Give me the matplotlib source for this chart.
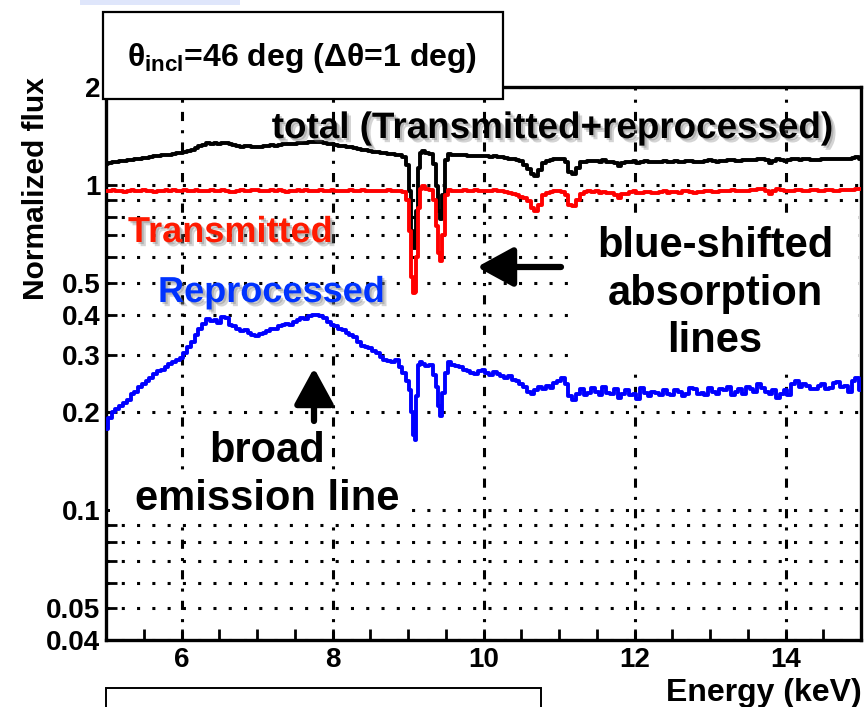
import matplotlib
matplotlib.use("Agg")
import numpy as np
import matplotlib.pyplot as plt
import matplotlib.patheffects as pe
from matplotlib.patches import Rectangle
from matplotlib.ticker import FixedLocator, MultipleLocator, NullFormatter

plt.rcParams['font.family'] = ['Liberation Sans', 'DejaVu Sans']
plt.rcParams['font.weight'] = 'bold'
plt.rcParams['mathtext.fontset'] = 'custom'
plt.rcParams['mathtext.rm'] = 'Liberation Sans:bold'
plt.rcParams['mathtext.it'] = 'Liberation Sans:bold'
plt.rcParams['mathtext.bf'] = 'Liberation Sans:bold'

# ---------------- data ----------------
# bin centres (keV): 0.05 keV bins, finer around the Fe XXV / Fe XXVI lines
energy_low = np.round(np.arange(5.0, 8.901, 0.05), 2)
energy_lines = [8.95, 9.0, 9.03, 9.06, 9.08, 9.10, 9.12, 9.14, 9.17, 9.2,
                9.25, 9.3, 9.35, 9.38, 9.41, 9.44, 9.47, 9.5, 9.55, 9.6]
energy_high = np.round(np.arange(9.65, 15.001, 0.05), 2)
energy_kev = np.concatenate([energy_low, energy_lines, energy_high])

total_flux = [
    # 5.00 - 8.90
    1.16, 1.168, 1.175, 1.178, 1.185, 1.188, 1.19, 1.195, 1.20, 1.205,
    1.21, 1.213, 1.22, 1.226, 1.23, 1.232, 1.238, 1.24, 1.245, 1.25,
    1.255, 1.262, 1.27, 1.285, 1.30, 1.315, 1.33, 1.345, 1.34, 1.345,
    1.335, 1.35, 1.35, 1.335, 1.33, 1.32, 1.31, 1.315, 1.315, 1.31,
    1.31, 1.312, 1.315, 1.32, 1.325, 1.322, 1.33, 1.335, 1.335, 1.332,
    1.34, 1.345, 1.35, 1.348, 1.355, 1.358, 1.36, 1.355, 1.35, 1.34,
    1.335, 1.33, 1.32, 1.318, 1.31, 1.305, 1.295, 1.288, 1.28, 1.278,
    1.27, 1.265, 1.26, 1.252, 1.25, 1.248, 1.245, 1.24, 1.235,
    # 8.95 - 9.60 (absorption lines)
    1.22, 1.15, 0.96, 0.72, 0.64, 0.64, 0.83, 1.13, 1.25, 1.27,
    1.255, 1.245, 1.16, 0.99, 0.83, 0.785, 0.93, 1.19, 1.245, 1.24,
    # 9.65 - 15.00
    1.24, 1.235, 1.24, 1.23, 1.225, 1.225, 1.228,
    1.23, 1.225, 1.22, 1.225, 1.22, 1.215, 1.21, 1.205, 1.20, 1.19,
    1.185, 1.15, 1.12, 1.08, 1.065, 1.11, 1.17, 1.185, 1.19, 1.20,
    1.205, 1.20, 1.175, 1.10, 1.08, 1.13, 1.175, 1.178, 1.185, 1.188,
    1.185, 1.18, 1.19, 1.18, 1.175, 1.165, 1.14, 1.165, 1.175, 1.18,
    1.185, 1.17, 1.18, 1.182, 1.178, 1.175, 1.175, 1.178, 1.185, 1.178,
    1.18, 1.185, 1.178, 1.18, 1.182, 1.185, 1.175, 1.18, 1.18, 1.182,
    1.19, 1.185, 1.18, 1.188, 1.185, 1.19, 1.19, 1.185, 1.182, 1.19,
    1.19, 1.195, 1.195, 1.205, 1.205, 1.19, 1.17, 1.185, 1.20, 1.195,
    1.185, 1.19, 1.20, 1.205, 1.195, 1.20, 1.198, 1.195, 1.19, 1.195,
    1.20, 1.198, 1.20, 1.205, 1.205, 1.20, 1.20, 1.205, 1.21, 1.215,
    1.20,
]

transmitted_flux = [
    # 5.00 - 8.90
    0.955, 0.958, 0.962, 0.957, 0.958, 0.952, 0.96, 0.962, 0.956, 0.96,
    0.962, 0.958, 0.958, 0.953, 0.955, 0.96, 0.962, 0.958, 0.963, 0.957,
    0.957, 0.962, 0.96, 0.955, 0.962, 0.958, 0.955, 0.96, 0.965, 0.958,
    0.958, 0.962, 0.96, 0.952, 0.95, 0.958, 0.962, 0.96, 0.958, 0.965,
    0.965, 0.958, 0.955, 0.96, 0.962, 0.958, 0.962, 0.955, 0.952, 0.958,
    0.96, 0.963, 0.958, 0.962, 0.958, 0.955, 0.96, 0.962, 0.955, 0.96,
    0.962, 0.958, 0.96, 0.955, 0.96, 0.962, 0.955, 0.958, 0.962, 0.956,
    0.958, 0.955, 0.96, 0.955, 0.96, 0.962, 0.957, 0.955, 0.955,
    # 8.95 - 9.60
    0.95, 0.90, 0.72, 0.52, 0.465, 0.47, 0.60, 0.85, 0.97, 0.99,
    0.975, 0.965, 0.90, 0.75, 0.62, 0.585, 0.70, 0.93, 0.965, 0.958,
    # 9.65 - 15.00
    0.96, 0.958, 0.962, 0.958, 0.955, 0.962, 0.958,
    0.955, 0.96, 0.958, 0.962, 0.958, 0.955, 0.95, 0.945, 0.94, 0.93,
    0.92, 0.91, 0.89, 0.85, 0.83, 0.87, 0.93, 0.945, 0.95, 0.955,
    0.955, 0.95, 0.93, 0.87, 0.86, 0.90, 0.94, 0.95, 0.955, 0.95,
    0.955, 0.948, 0.95, 0.945, 0.945, 0.93, 0.91, 0.935, 0.94, 0.95,
    0.955, 0.945, 0.948, 0.952, 0.95, 0.945, 0.945, 0.95, 0.955, 0.948,
    0.95, 0.952, 0.948, 0.955, 0.955, 0.95, 0.945, 0.952, 0.952, 0.955,
    0.958, 0.95, 0.95, 0.955, 0.955, 0.96, 0.962, 0.955, 0.955, 0.96,
    0.958, 0.962, 0.965, 0.97, 0.975, 0.955, 0.94, 0.96, 0.975, 0.965,
    0.96, 0.958, 0.955, 0.962, 0.965, 0.96, 0.958, 0.962, 0.962, 0.958,
    0.955, 0.962, 0.965, 0.96, 0.96, 0.965, 0.962, 0.965, 0.968, 0.97,
    0.975,
]

reprocessed_flux = [
    # 5.00 - 8.90
    0.178, 0.192, 0.20, 0.205, 0.21, 0.214, 0.218, 0.228, 0.232, 0.24,
    0.245, 0.25, 0.255, 0.262, 0.268, 0.27, 0.275, 0.282, 0.285, 0.29,
    0.295, 0.305, 0.318, 0.33, 0.345, 0.36, 0.375, 0.388, 0.382, 0.386,
    0.378, 0.392, 0.39, 0.372, 0.368, 0.362, 0.356, 0.358, 0.35, 0.346,
    0.343, 0.348, 0.352, 0.356, 0.362, 0.36, 0.368, 0.372, 0.375, 0.372,
    0.38, 0.385, 0.39, 0.388, 0.395, 0.398, 0.40, 0.395, 0.39, 0.38,
    0.372, 0.368, 0.362, 0.358, 0.352, 0.345, 0.34, 0.33, 0.32, 0.318,
    0.315, 0.31, 0.305, 0.296, 0.29, 0.288, 0.285, 0.29, 0.275,
    # 8.95 - 9.60
    0.265, 0.25, 0.235, 0.20, 0.17, 0.165, 0.225, 0.28, 0.285, 0.282,
    0.278, 0.28, 0.26, 0.24, 0.21, 0.195, 0.23, 0.265, 0.285, 0.28,
    # 9.65 - 15.00
    0.278, 0.275, 0.27, 0.268, 0.265, 0.262, 0.268,
    0.27, 0.264, 0.26, 0.266, 0.262, 0.258, 0.255, 0.258, 0.252, 0.25,
    0.245, 0.24, 0.232, 0.228, 0.235, 0.24, 0.236, 0.242, 0.238, 0.246,
    0.25, 0.255, 0.245, 0.225, 0.218, 0.228, 0.236, 0.226, 0.23, 0.238,
    0.232, 0.226, 0.24, 0.23, 0.228, 0.236, 0.222, 0.228, 0.235, 0.226,
    0.228, 0.22, 0.238, 0.23, 0.225, 0.232, 0.23, 0.226, 0.235, 0.228,
    0.226, 0.234, 0.232, 0.224, 0.228, 0.238, 0.236, 0.228, 0.23, 0.226,
    0.238, 0.232, 0.228, 0.236, 0.234, 0.24, 0.226, 0.232, 0.236, 0.228,
    0.24, 0.236, 0.232, 0.244, 0.238, 0.232, 0.228, 0.234, 0.222, 0.228,
    0.235, 0.226, 0.245, 0.25, 0.24, 0.244, 0.242, 0.236, 0.236, 0.242,
    0.244, 0.236, 0.238, 0.246, 0.248, 0.24, 0.242, 0.232, 0.25, 0.255,
    0.235,
]

assert len(total_flux) == len(energy_kev), (len(total_flux), len(energy_kev))
assert len(transmitted_flux) == len(energy_kev), (len(transmitted_flux), len(energy_kev))
assert len(reprocessed_flux) == len(energy_kev), (len(reprocessed_flux), len(energy_kev))

y_major_ticks = [0.04, 0.05, 0.1, 0.2, 0.3, 0.4, 0.5, 1, 2]
y_major_labels = ['0.04', '0.05', '0.1', '0.2', '0.3', '0.4', '0.5', '1', '2']
y_minor_ticks = [0.06, 0.07, 0.08, 0.09, 0.6, 0.7, 0.8, 0.9]
x_major_ticks = [6, 8, 10, 12, 14]

# ---------------- figure ----------------
W, H = 868, 707
fig = plt.figure(figsize=(W / 100, H / 100), dpi=100)
fig.patch.set_facecolor('white')


def fx(px):
    return px / W


def fy(py):
    return 1 - py / H


ax = fig.add_axes([fx(106), fy(640), (861 - 106) / W, (640 - 87) / H])
ax.set_yscale('log')
ax.set_xlim(5, 15)
ax.set_ylim(0.04, 2)

ax.plot(energy_kev, total_flux, drawstyle='steps-mid', color='black', lw=2.8, zorder=3)
ax.plot(energy_kev, transmitted_flux, drawstyle='steps-mid', color='#ff0000', lw=2.8, zorder=3)
ax.plot(energy_kev, reprocessed_flux, drawstyle='steps-mid', color='#0000ff', lw=2.8, zorder=3)

ax.yaxis.set_major_locator(FixedLocator(y_major_ticks))
ax.set_yticklabels(y_major_labels)
ax.yaxis.set_minor_locator(FixedLocator(y_minor_ticks))
ax.yaxis.set_minor_formatter(NullFormatter())
ax.xaxis.set_major_locator(FixedLocator(x_major_ticks))
ax.xaxis.set_minor_locator(MultipleLocator(0.5))

ax.tick_params(axis='both', which='both', direction='in', width=2.0, labelsize=20, pad=5)
ax.tick_params(axis='y', which='both', length=8, pad=4)
ax.tick_params(axis='x', which='both', length=8)
for lab in ax.get_xticklabels() + ax.get_yticklabels():
    lab.set_fontweight('bold')

for sp in ax.spines.values():
    sp.set_linewidth(2.4)

ax.set_axisbelow(True)
ax.grid(axis='y', which='both', color='black', lw=2.2, linestyle=(0, (1, 4)), dash_capstyle='butt')
ax.grid(axis='x', which='major', color='black', lw=2.2, linestyle=(0, (3, 3, 1, 3)), dash_capstyle='butt')

# white areas behind the annotation texts (hide grid)
ax.add_patch(Rectangle((fx(575), fy(368)), (858 - 575) / W, (368 - 214) / H,
                       transform=fig.transFigure, facecolor='white', edgecolor='none', zorder=0.8))
ax.add_patch(Rectangle((fx(110), fy(522)), (405 - 110) / W, (522 - 476) / H,
                       transform=fig.transFigure, facecolor='white', edgecolor='none', zorder=0.8))

shadow = [pe.SimplePatchShadow(offset=(1.5, -1.5), shadow_rgbFace=(0.45, 0.45, 0.45), alpha=0.35),
          pe.SimplePatchShadow(offset=(3, -3), shadow_rgbFace=(0.45, 0.45, 0.45), alpha=0.3),
          pe.Normal()]

fig.text(fx(552), fy(138), 'total (Transmitted+reprocessed)', fontsize=26.5, fontweight='bold',
         ha='center', va='baseline', color='black', path_effects=shadow, zorder=6)
fig.text(fx(128), fy(242), 'Transmitted', fontsize=26, fontweight='bold',
         ha='left', va='baseline', color='#ff1a00', path_effects=shadow, zorder=6)
fig.text(fx(158), fy(302), 'Reprocessed', fontsize=26, fontweight='bold',
         ha='left', va='baseline', color='#0033ff', path_effects=shadow, zorder=6)

for txt, base in [('blue-shifted', 257), ('absorption', 305), ('lines', 352)]:
    fig.text(fx(715), fy(base), txt, fontsize=30, fontweight='bold', ha='center',
             va='baseline', color='black', zorder=6)
for txt, base in [('broad', 462), ('emission line', 510)]:
    fig.text(fx(267), fy(base), txt, fontsize=30, fontweight='bold', ha='center',
             va='baseline', color='black', zorder=6)

# arrows
ax.annotate('', xy=(477, H - 267), xycoords='figure pixels', xytext=(561, H - 267),
            textcoords='figure pixels',
            arrowprops=dict(arrowstyle='-|>,head_length=1.1,head_width=0.6', lw=4.5,
                            color='black', shrinkA=0, shrinkB=0, mutation_scale=20), zorder=7)
ax.annotate('', xy=(314, H - 368), xycoords='figure pixels', xytext=(314, H - 421),
            textcoords='figure pixels',
            arrowprops=dict(arrowstyle='-|>,head_length=1.1,head_width=0.6', lw=4.5,
                            color='black', shrinkA=0, shrinkB=0, mutation_scale=20), zorder=7)

# axis titles
fig.text(fx(36), fy(189), 'Normalized flux', rotation=90, fontsize=21.5, fontweight='bold',
         ha='center', va='center')
fig.text(fx(862), fy(693), 'Energy (keV)', fontsize=23, fontweight='bold',
         ha='right', va='center')

# theta box (top-left)
fig.add_artist(Rectangle((fx(103), fy(99)), (503 - 103) / W, (99 - 12) / H,
                         transform=fig.transFigure, facecolor='white', edgecolor='black',
                         lw=1.6, zorder=8))
fig.text(fx(302), fy(58), r'$\theta_{\rm incl}$=46 deg ($\Delta\theta$=1 deg)', fontsize=23,
         fontweight='bold', ha='center', va='center', zorder=9)

# empty box at the bottom
fig.add_artist(Rectangle((fx(106), fy(730)), (541 - 106) / W, (730 - 688) / H,
                         transform=fig.transFigure, facecolor='white', edgecolor='black',
                         lw=1.4, zorder=8))
# faint blue strip at the very top
fig.add_artist(Rectangle((fx(80), fy(5)), (240 - 80) / W, 5 / H,
                         transform=fig.transFigure, facecolor='#dfe6fb', edgecolor='none',
                         zorder=8))

fig.savefig('out.png', dpi=100)
